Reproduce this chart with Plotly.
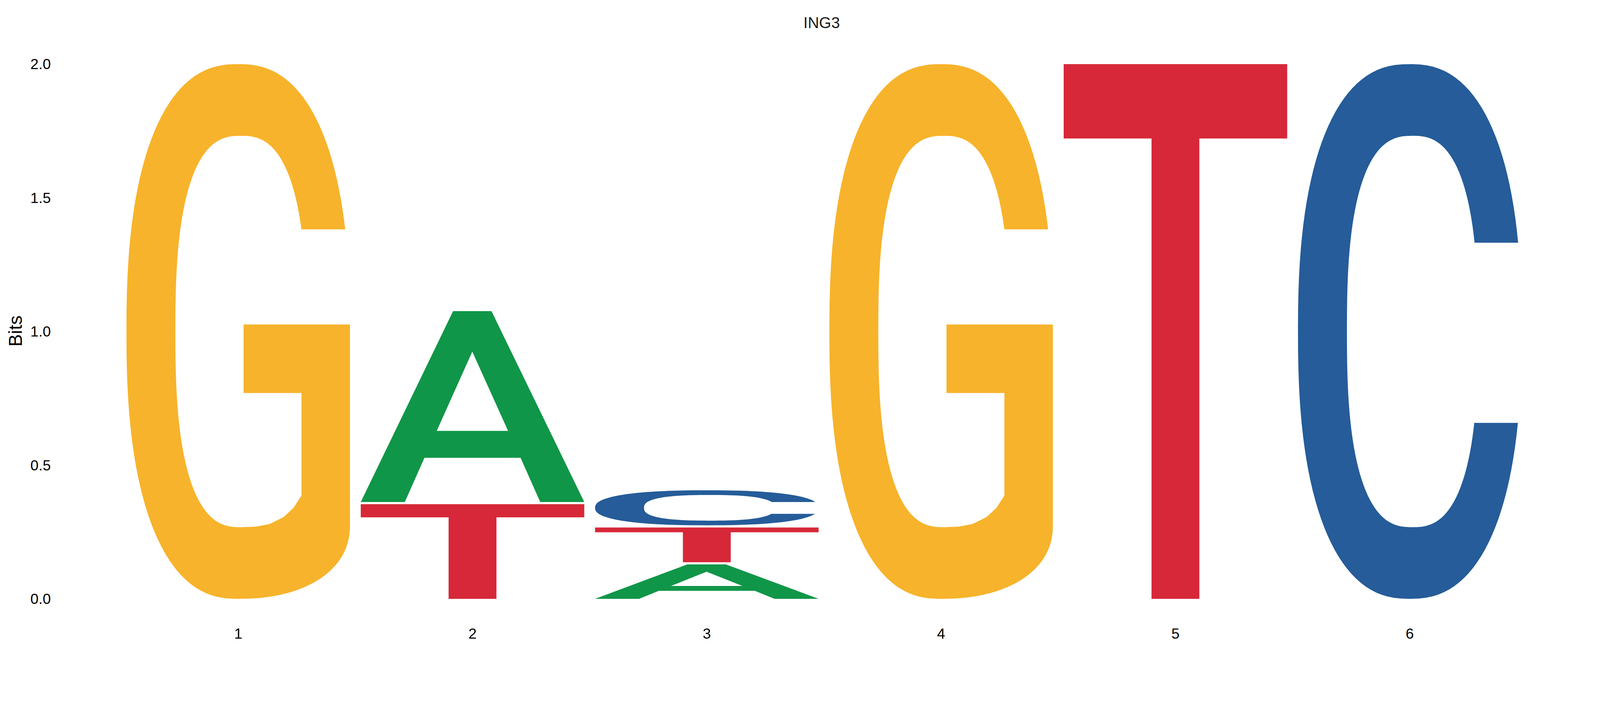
import math
import plotly.graph_objects as go

# sequence logo for ING3 (information content in bits, per position)
positions = [1, 2, 3, 4, 5, 6]
bits_A = [0.0, 0.714, 0.129, 0.0, 0.0, 0.0]
bits_C = [0.0, 0.0, 0.131, 0.0, 0.0, 2.0]
bits_G = [2.0, 0.0, 0.0, 2.0, 0.0, 0.0]
bits_T = [0.0, 0.354, 0.130, 0.0, 2.0, 0.0]
y_ticks = [0.0, 0.5, 1.0, 1.5, 2.0]

colors = {"A": "#109648", "C": "#255C99", "G": "#F7B32B", "T": "#D62839"}
letter_width = 0.954
stack_gap = 0.008

N_OUT, N_IN = 2.4, 2.6
IN_CX, IN_RX, IN_RY = 0.512, 0.293, 0.366


def arc(cx, cy, rx, ry, n, t0, t1, steps=120):
    pts = []
    for i in range(steps + 1):
        t = t0 + (t1 - t0) * i / steps
        c, s = math.cos(t), math.sin(t)
        pts.append((cx + rx * math.copysign(abs(c) ** (2 / n), c),
                    cy + ry * math.copysign(abs(s) ** (2 / n), s)))
    return pts


def angle_at(v, cy, ry, n):
    s = (v - cy) / ry
    return math.asin(math.copysign(abs(s) ** (n / 2), s))


# glyph outlines in a unit box (x 0..1, y 0..1); lists of subpaths
def glyph_C():
    to1, to2 = angle_at(0.666, 0.5, 0.5, N_OUT), angle_at(0.329, 0.5, 0.5, N_OUT)
    ti1, ti2 = angle_at(0.666, 0.5, IN_RY, N_IN), angle_at(0.329, 0.5, IN_RY, N_IN)
    outer = arc(0.5, 0.5, 0.5, 0.5, N_OUT, to1, 2 * math.pi + to2)
    inner = arc(IN_CX, 0.5, IN_RX, IN_RY, N_IN, 2 * math.pi + ti2, ti1)
    return [outer + inner]


def glyph_G():
    to1 = angle_at(0.691, 0.5, 0.5, N_OUT)
    ti1 = angle_at(0.691, 0.5, IN_RY, N_IN)
    outer = arc(0.5, 0.5, 0.5, 0.5, N_OUT, to1, 1.5 * math.pi)
    lower = arc(0.5, 0.138, 0.5, 0.138, 2.2, -0.5 * math.pi, 0, 40)
    bar = [(1.0, 0.513), (0.524, 0.513), (0.524, 0.385), (0.783, 0.385), (0.783, 0.193),
           (0.747, 0.170), (0.703, 0.153), (0.641, 0.140), (0.579, 0.135)]
    inner = arc(IN_CX, 0.5, IN_RX, IN_RY, N_IN, -0.5 * math.pi, ti1 - 2 * math.pi)
    return [outer + lower + bar + inner]


def glyph_A():
    outer = [(0, 0), (0.197, 0), (0.285, 0.232), (0.715, 0.232), (0.803, 0),
             (1, 0), (0.585, 1), (0.413, 1)]
    hole = [(0.34, 0.373), (0.659, 0.373), (0.499, 0.788)]
    return [outer, hole]


def glyph_T():
    return [[(0, 1), (1, 1), (1, 0.861), (0.607, 0.861), (0.607, 0),
             (0.393, 0), (0.393, 0.861), (0, 0.861)]]


glyphs = {"A": glyph_A(), "C": glyph_C(), "G": glyph_G(), "T": glyph_T()}
bits = {"A": bits_A, "C": bits_C, "G": bits_G, "T": bits_T}


def letter_path(letter, x, y0, h):
    parts = []
    for sub in glyphs[letter]:
        coords = ["%.5f,%.5f" % (x - letter_width / 2 + u * letter_width, y0 + v * h) for u, v in sub]
        parts.append("M" + " L".join(coords) + " Z")
    return " ".join(parts)


shapes = []
for i, pos in enumerate(positions):
    # smallest letter at the bottom, largest on top
    stack = sorted([(bits[l][i], l) for l in "ACGT" if bits[l][i] > 0])
    y0 = 0.0
    for h, l in stack:
        shapes.append(dict(type="path", xref="x", yref="y", path=letter_path(l, pos, y0, h),
                           fillcolor=colors[l], line=dict(width=0), fillrule="evenodd", layer="above"))
        y0 += h + stack_gap

# the page shows up a little zoomed, so the figure is sized to the visible area
W, H = 4068, 1701
ml, mr, mt, mb = 133, 10, 124, 112
pw, ph = W - ml - mr, H - mt - mb

fig = go.Figure()
fig.add_trace(go.Scatter(x=positions, y=[0] * len(positions), mode="markers",
                         marker=dict(opacity=0), hoverinfo="skip", showlegend=False))

fig.update_layout(
    width=W, height=H,
    margin=dict(l=ml, r=mr, t=mt, b=mb),
    paper_bgcolor="white", plot_bgcolor="white",
    shapes=shapes,
    font=dict(family="Liberation Sans, Arial, sans-serif", color="black"),
    title=dict(text="ING3", x=0.5, xref="paper", xanchor="center",
               y=1 - 50 / H, yref="container", yanchor="middle",
               font=dict(size=40, color="#1a1a1a")),
    showlegend=False,
)
fig.update_xaxes(range=[0.2184, 6.762], tickvals=positions, ticktext=[str(p) for p in positions],
                 showgrid=False, zeroline=False, showline=False, ticks="",
                 tickfont=dict(size=37.5, color="black"))
fig.update_yaxes(range=[-0.092, 2.0472], tickvals=y_ticks, tickformat=".1f",
                 showgrid=False, zeroline=False, showline=False, ticks="",
                 ticklabelstandoff=10, tickfont=dict(size=37.5, color="black"))
fig.add_annotation(text="Bits", xref="paper", yref="paper",
                   x=(31 - ml) / pw, y=(H - mb - 840) / ph,
                   xanchor="center", yanchor="middle", textangle=-90,
                   showarrow=False, font=dict(size=48, color="black"))

fig.write_html("out.html")
